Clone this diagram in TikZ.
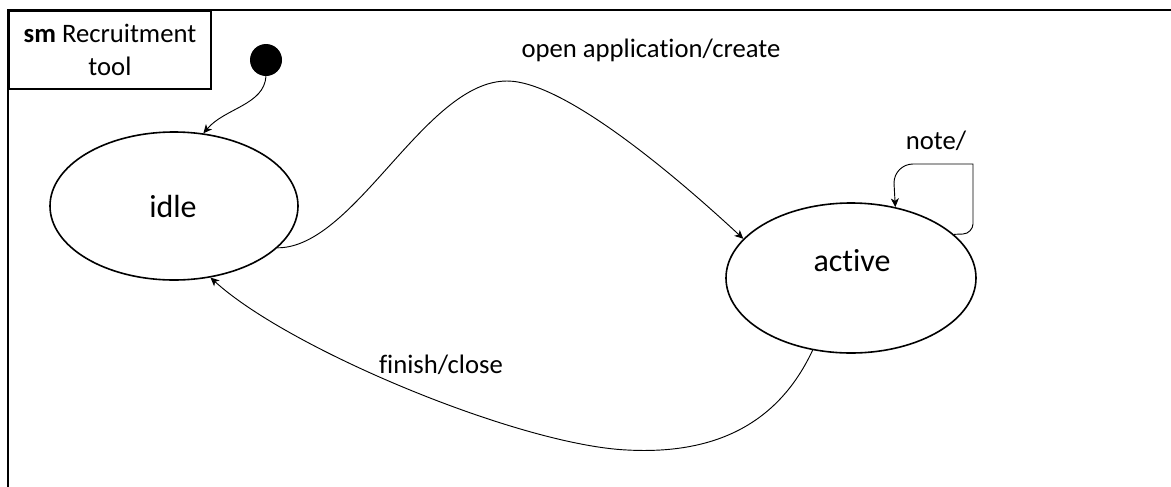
\documentclass[tikz,border=0pt]{standalone}
\usepackage{fontspec}
\setmainfont{Carlito}[Ligatures=NoCommon]
\usetikzlibrary{shapes.geometric,arrows.meta}
\begin{document}
\begin{tikzpicture}[x=0.75pt,y=-0.75pt,
  framepen/.style={draw=black,line width=1.4pt},
  titlebox/.style={draw=black,line width=1.4pt,minimum width=151.5pt,minimum height=58.5pt,inner sep=0pt,align=center,font=\fontsize{20}{24.75}\selectfont},
  state/.style={ellipse,draw=black,line width=1.2pt,inner sep=0pt},
  statetext/.style={anchor=base,inner sep=0pt,font=\fontsize{24}{28}\selectfont},
  edgelabel/.style={anchor=base,inner sep=0pt,font=\fontsize{20}{24}\selectfont},
  initdot/.style={circle,fill=black,minimum size=24pt,inner sep=0pt},
  edge/.style={draw=black,line width=0.7pt,-{Stealth[length=6.5pt,width=6pt,inset=1.8pt]}}
]
\useasboundingbox (0,0) rectangle (1171,486);
\clip (0,0) rectangle (1171,486);
\draw[framepen] (8,10) rectangle (1220,540);
\node[titlebox,anchor=north west] (title) at (8,10) {\textbf{sm} Recruitment\\tool};
\node[initdot] (init) at (266,60) {};
\node[state,minimum width=186pt,minimum height=111pt] (idle) at (174,206) {};
\node[state,minimum width=187.5pt,minimum height=112.5pt] (active) at (851,278) {};
\node[statetext] (idletext) at (173,217) {idle};
\node[statetext] (activetext) at (852,271) {active};
\node[edgelabel] (openlabel) at (651,57) {open application/create};
\node[edgelabel] (finishlabel) at (441,373) {finish/close};
\node[edgelabel] (notelabel) at (936,149) {note/};
\draw[edge] (init.south) .. controls (264,105) and (225,108) .. (idle.68);
\draw[edge] (idle.-22) .. controls (355,248) and (425,81) .. (507,81)
  .. controls (565,81) and (680,180) .. (active.160);
\draw[edge] (active.242.5) .. controls (780,420) and (720,455) .. (627,450)
  .. controls (520,445) and (290,350) .. (idle.-63);
\draw[edge] (active.23) -- (963,234) .. controls (968.5,234) and (973,228.5) .. (973,224)
  -- (973,164) -- (913,164) .. controls (902.5,164) and (894,172.5) .. (894,183) -- (active.58.6);
\end{tikzpicture}
\end{document}
